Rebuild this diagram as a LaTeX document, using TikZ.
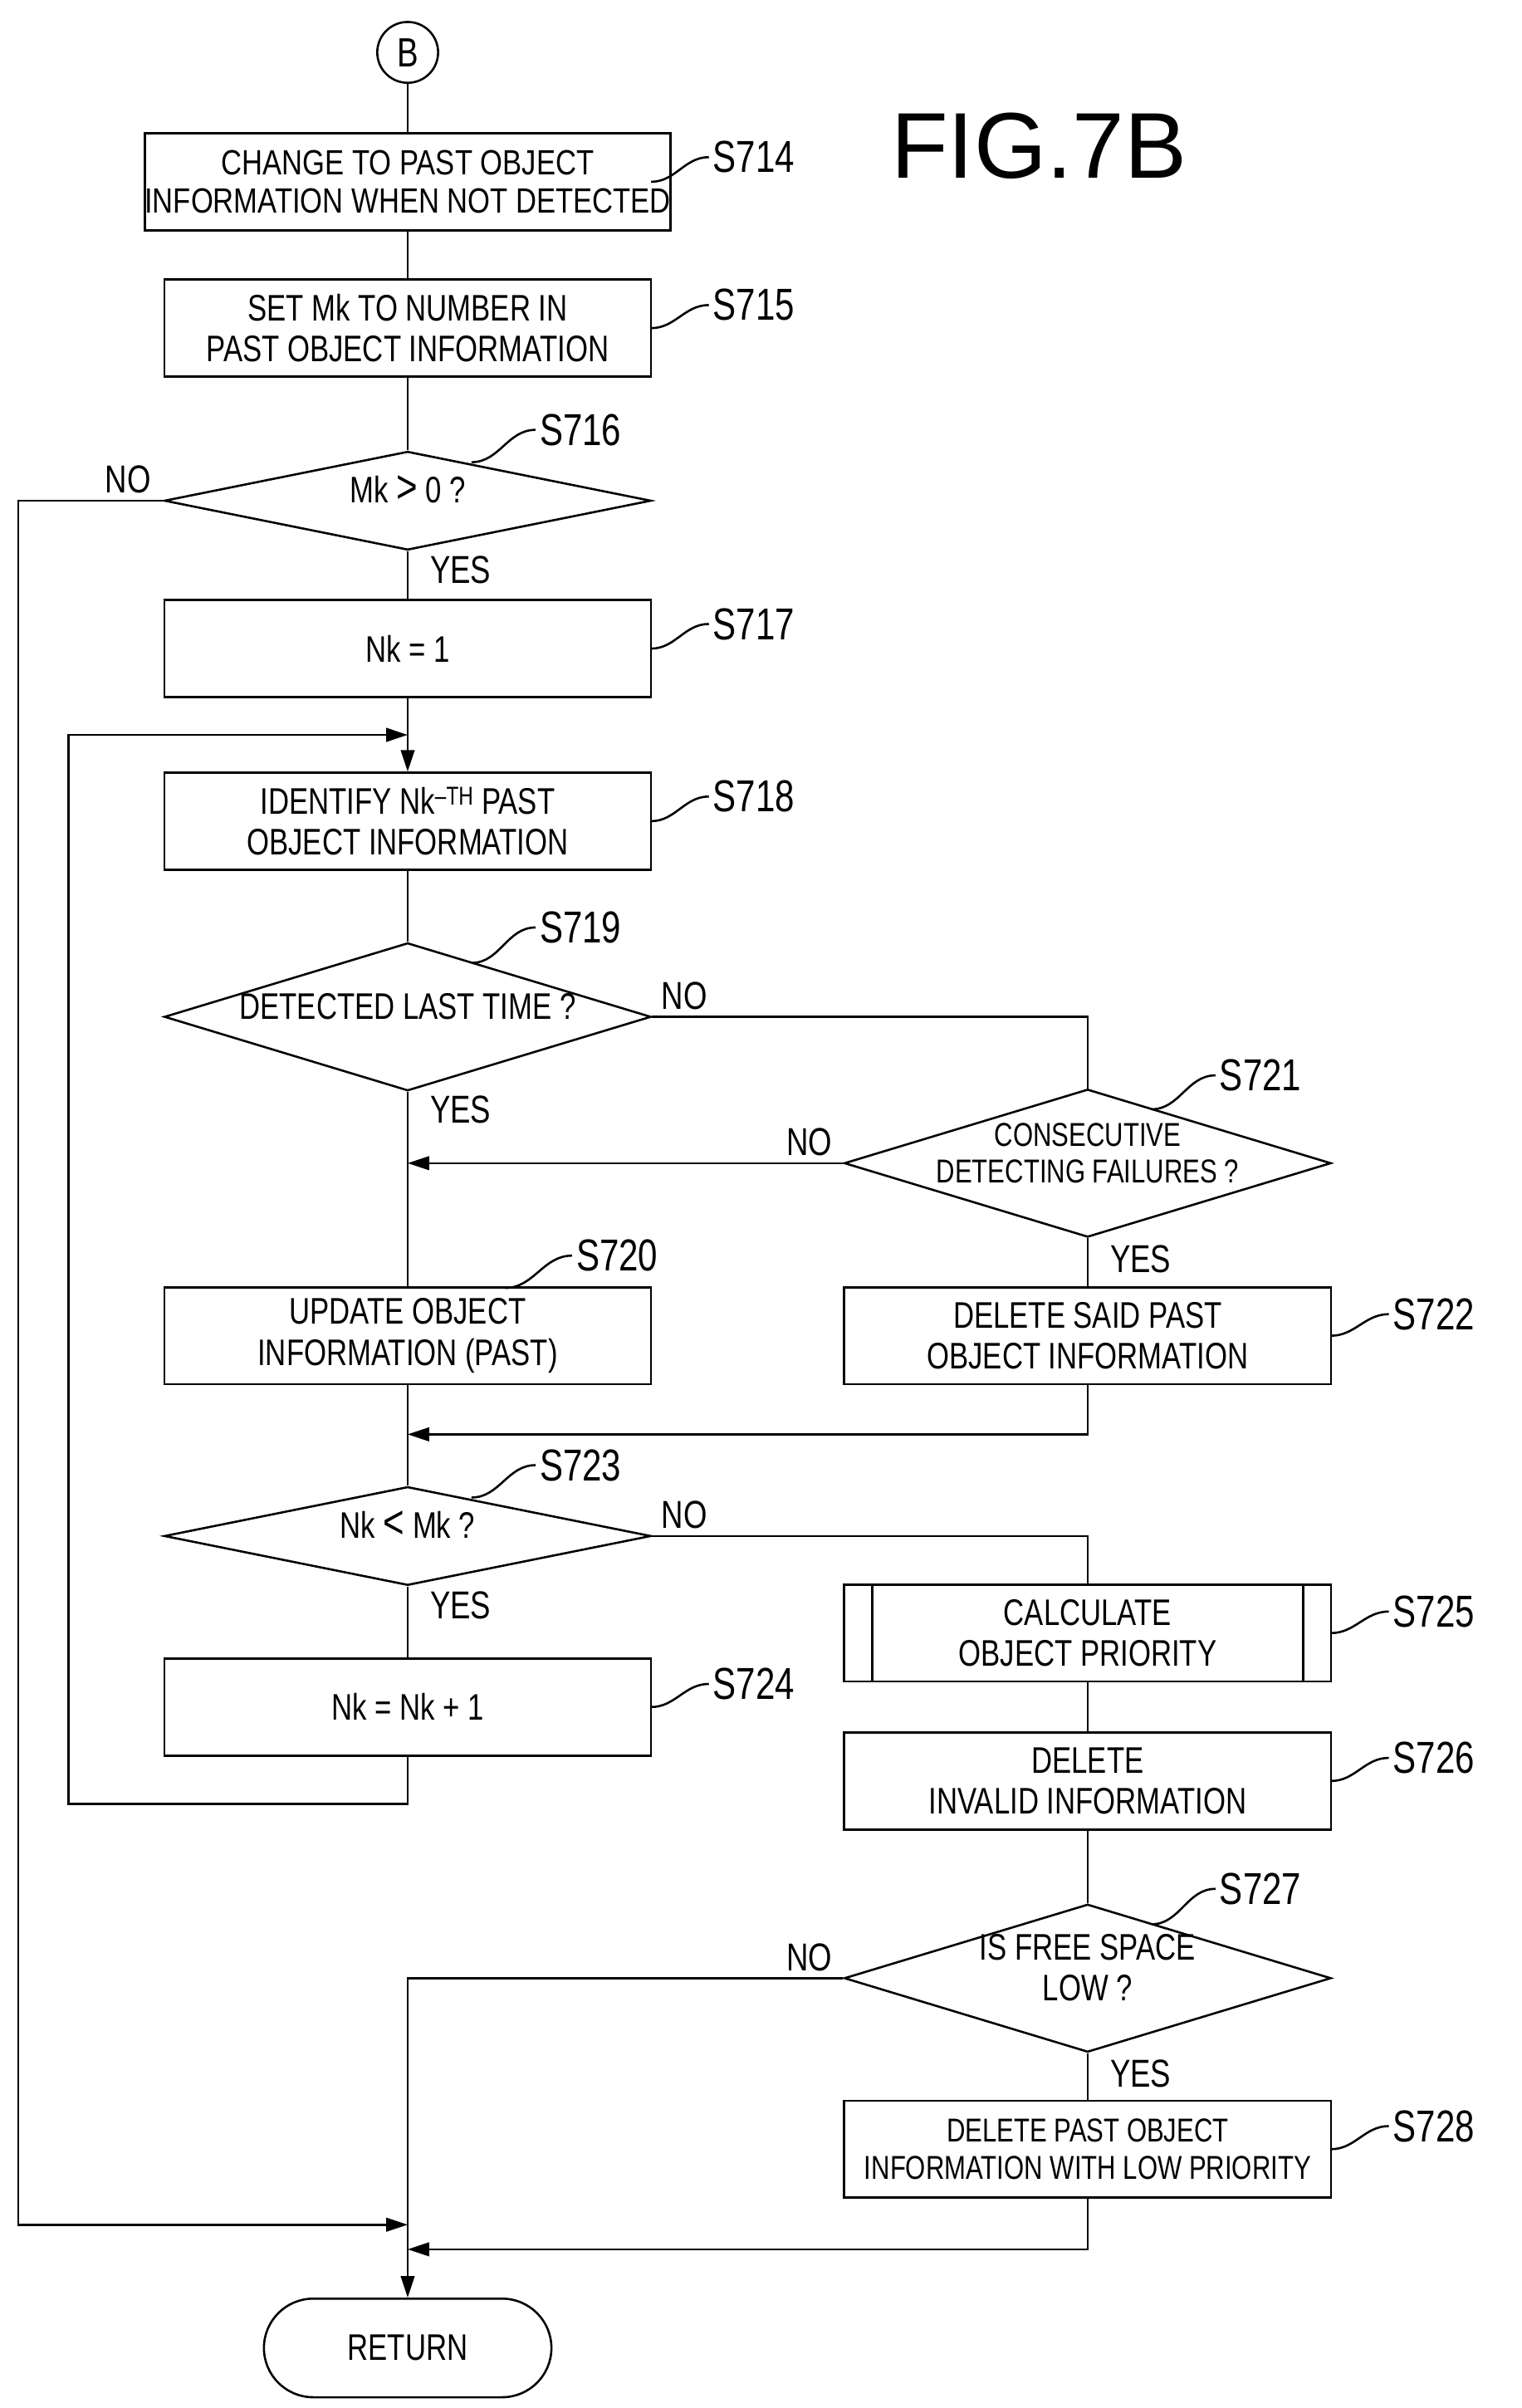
\documentclass[tikz,border=0pt]{standalone}
\usepackage{fontspec}
\setmainfont{Liberation Sans}[FakeStretch=0.78]
\newfontfamily\figfont{Liberation Sans}
\usetikzlibrary{shapes.geometric,arrows.meta}
\newcommand{\zt}[1]{\makebox[0pt]{\smash{\begin{tabular}{@{}c@{}}#1\end{tabular}}}}
\begin{document}
\begin{tikzpicture}[x=0.05496cm,y=-0.05566cm,line width=2.2pt,
 txt/.style={font=\fontsize{38}{42}\selectfont,align=center},
 box/.style={draw,txt,minimum width=320*0.05496cm,minimum height=63*0.05566cm,inner sep=0},
 dia/.style={draw,txt,diamond,aspect=1,inner sep=0,minimum width=320*0.05496cm},
 lab/.style={font=\fontsize{46}{50}\selectfont,anchor=west},
 yn/.style={font=\fontsize{40}{44}\selectfont},
 arr/.style={-{Triangle[length=22pt,width=14pt]}}]
\useasboundingbox (0,0) rectangle (1000,1563);
\node[draw,circle,minimum size=40*0.05496cm,inner sep=0,font=\fontsize{42}{46}\selectfont] (B) at (268,34) {B};
\node[font=\fontsize{96}{106}\selectfont\figfont] (fig) at (683,95) {FIG.7B};
\node[box,font=\fontsize{36}{40}\selectfont\addfontfeature{FakeStretch=0.9}] (s714) at (268,118) {\addfontfeature{FakeStretch=0.82}CHANGE TO PAST OBJECT\\\addfontfeature{FakeStretch=0.82}INFORMATION WHEN NOT DETECTED};
\node[box] (s715) at (268,213) {SET Mk TO NUMBER IN\\PAST OBJECT INFORMATION};
\node[dia,minimum height=64*0.05566cm] (s716) at (268,325) {\zt{Mk {\fontsize{48}{48}\selectfont >} 0 ?}};
\node[box] (s717) at (268,421) {Nk = 1};
\node[box] (s718) at (268,533) {IDENTIFY Nk\textsuperscript{--TH} PAST\\OBJECT INFORMATION};
\node[dia,minimum height=96*0.05566cm] (s719) at (268,660) {\zt{DETECTED LAST TIME ?}};
\node[dia,minimum height=96*0.05566cm,font=\fontsize{34}{38}\selectfont] (s721) at (715,755) {\zt{CONSECUTIVE\\DETECTING FAILURES ?}};
\node[box] (s720) at (268,867) {UPDATE OBJECT\\INFORMATION (PAST)};
\node[box] (s722) at (715,867) {DELETE SAID PAST\\OBJECT INFORMATION};
\node[dia,minimum height=64*0.05566cm] (s723) at (268,997) {\zt{Nk {\fontsize{48}{48}\selectfont <} Mk ?}};
\node[box] (s724) at (268,1108) {Nk = Nk + 1};
\node[box] (s725) at (715,1060) {CALCULATE\\OBJECT PRIORITY};
\draw ([xshift=19*0.05496cm]s725.north west) -- ([xshift=19*0.05496cm]s725.south west);
\draw ([xshift=-19*0.05496cm]s725.north east) -- ([xshift=-19*0.05496cm]s725.south east);
\node[box] (s726) at (715,1156) {DELETE\\INVALID INFORMATION};
\node[dia,minimum height=96*0.05566cm] (s727) at (715,1284) {\zt{IS FREE SPACE\\LOW ?}};
\node[box,font=\fontsize{34}{38}\selectfont] (s728) at (715,1395) {DELETE PAST OBJECT\\INFORMATION WITH LOW PRIORITY};
\node[draw,txt,rounded corners=32*0.05566cm,minimum width=189*0.05496cm,minimum height=64*0.05566cm] (ret) at (268,1524) {RETURN};
\coordinate (j1) at (268,477); \coordinate (j2) at (268,755); \coordinate (j3) at (268,931);
\coordinate (j4) at (268,1444); \coordinate (j5) at (268,1460);
\draw (B) -- (s714); \draw (s714) -- (s715); \draw (s715) -- (s716); \draw (s716) -- (s717);
\draw (s717) -- (j1); \draw[arr] (j1) -- (s718); \draw (s718) -- (s719);
\draw (s719) -- (s720); \draw (s720) -- (s723); \draw (s723) -- (s724);
\draw (s719.east) -| (s721.north);
\draw[arr] (s721.west) -- (j2);
\draw (s721) -- (s722);
\draw[arr] (s722.south) |- (j3);
\draw (s723.east) -| (s725.north);
\draw (s725) -- (s726); \draw (s726) -- (s727); \draw (s727) -- (s728);
\draw[arr] (s724.south) |- (45,1171) |- (j1);
\draw[arr] (s716.west) -| (12,1444) -- (j4);
\draw[arr] (s728.south) |- (j5);
\draw[arr] (s727.west) -| (ret.north);
\node[yn,anchor=south east] at (102,323) {NO};
\node[yn,anchor=west] at (280,370) {YES};
\node[yn,anchor=south west] at (432,658) {NO};
\node[yn,anchor=west] at (280,720) {YES};
\node[yn,anchor=south east] at (550,753) {NO};
\node[yn,anchor=west] at (727,817) {YES};
\node[yn,anchor=south west] at (432,995) {NO};
\node[yn,anchor=west] at (280,1042) {YES};
\node[yn,anchor=south east] at (550,1282) {NO};
\node[yn,anchor=west] at (727,1346) {YES};
\def\lbl#1#2#3#4#5{\coordinate (a#1) at (#2,#3); \node[lab] (l#1) at (#4,#5) {#1}; \draw (a#1) to[out=0,in=180] (l#1.west);}
\lbl{S714}{428}{118}{466}{102}
\lbl{S715}{428}{213}{466}{198}
\lbl{S717}{428}{421}{466}{405}
\lbl{S718}{428}{533}{466}{517}
\lbl{S724}{428}{1108}{466}{1093}
\lbl{S722}{875}{867}{913}{853}
\lbl{S725}{875}{1060}{913}{1046}
\lbl{S726}{875}{1156}{913}{1141}
\lbl{S728}{875}{1395}{913}{1380}
\lbl{S716}{310}{300}{352}{279}
\lbl{S719}{310}{625}{352}{602}
\lbl{S720}{332}{836}{376}{815}
\lbl{S721}{757}{720}{799}{698}
\lbl{S723}{310}{972}{352}{951}
\lbl{S727}{757}{1249}{799}{1226}
\end{tikzpicture}
\end{document}
